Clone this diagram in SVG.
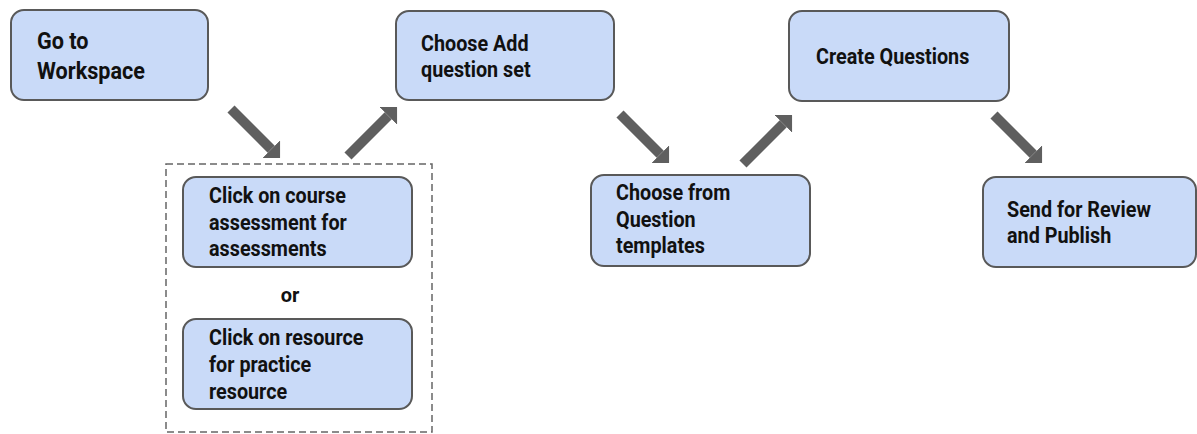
<svg xmlns="http://www.w3.org/2000/svg" width="1197" height="434" viewBox="0 0 1197 434">
<style>
.box{fill:#c9daf8;stroke:#595959;stroke-width:2}
.t{font-family:Roboto,"Liberation Sans",sans-serif;font-weight:700;font-size:21.5px;fill:#111}
.big{font-size:23.5px}
.or{font-family:Roboto,"Liberation Sans",sans-serif;font-weight:700;font-size:20px;fill:#111}
.conn{stroke:#5f5f5f;stroke-width:10;fill:none;marker-end:url(#head)}
</style>
<defs>
<marker id="head" viewBox="0 0 5 10" refX="0" refY="5" markerWidth="1.25" markerHeight="2.5" orient="auto" markerUnits="strokeWidth">
<path d="M0,0 L5,5 L0,10 z" fill="#5f5f5f"/>
</marker>
</defs>
<rect x="166" y="164" width="266" height="268" fill="none" stroke="#666" stroke-width="1.5" stroke-dasharray="7,4"/>
<g id="n1"><rect class="box" x="11" y="10" width="197" height="90" rx="13"/><g transform="matrix(0.92,0,0,1,37,0)"><text class="t big" x="0" y="49">Go to</text><text class="t big" x="0" y="79">Workspace</text></g></g>
<g id="n2"><rect class="box" x="396" y="11" width="218" height="89" rx="13"/><g transform="matrix(0.92,0,0,1,421,0)"><text class="t" x="0" y="51">Choose Add</text><text class="t" x="0" y="77">question set</text></g></g>
<g id="n3"><rect class="box" x="789" y="11" width="220" height="90" rx="13"/><g transform="matrix(0.92,0,0,1,816,0)"><text class="t" x="0" y="64">Create Questions</text></g></g>
<g id="n4"><rect class="box" x="591" y="175" width="219" height="91" rx="13"/><g transform="matrix(0.92,0,0,1,616,0)"><text class="t" x="0" y="200">Choose from</text><text class="t" x="0" y="227">Question</text><text class="t" x="0" y="253">templates</text></g></g>
<g id="n5"><rect class="box" x="983" y="177" width="213" height="90" rx="13"/><g transform="matrix(0.92,0,0,1,1007,0)"><text class="t" x="0" y="217">Send for Review</text><text class="t" x="0" y="243">and Publish</text></g></g>
<g id="n6"><rect class="box" x="183" y="177" width="229" height="90" rx="13"/><g transform="matrix(0.92,0,0,1,209,0)"><text class="t" x="0" y="203">Click on course</text><text class="t" x="0" y="230">assessment for</text><text class="t" x="0" y="256">assessments</text></g></g>
<g id="or"><text class="or" x="290" y="302" text-anchor="middle">or</text></g>
<g id="n7"><rect class="box" x="183" y="319" width="229" height="90" rx="13"/><g transform="matrix(0.92,0,0,1,209,0)"><text class="t" x="0" y="345">Click on resource</text><text class="t" x="0" y="372">for practice</text><text class="t" x="0" y="399">resource</text></g></g>
<g id="connectors">
<line class="conn" x1="231" y1="109" x2="271.2" y2="149.2"/>
<line class="conn" x1="348" y1="156" x2="388.2" y2="115.8"/>
<line class="conn" x1="620" y1="114" x2="660.2" y2="154.2"/>
<line class="conn" x1="743" y1="164" x2="783.2" y2="123.8"/>
<line class="conn" x1="994" y1="115" x2="1033.2" y2="154.2"/>
</g>
</svg>
